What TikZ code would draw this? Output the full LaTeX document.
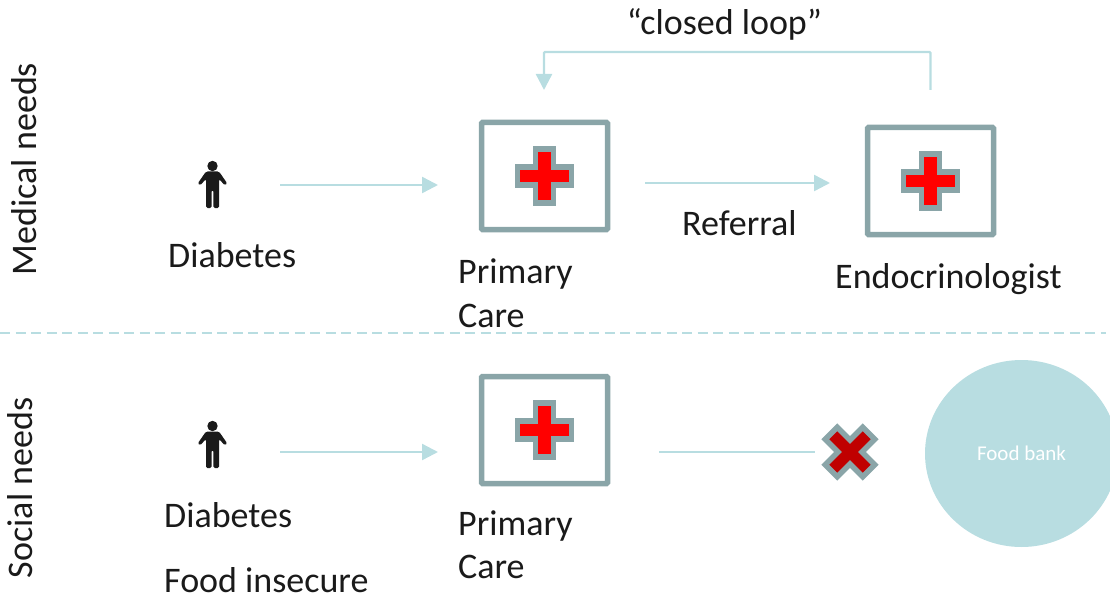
\documentclass[tikz,border=0pt]{standalone}
\usepackage{fontspec}
\setmainfont{Carlito}
\usetikzlibrary{arrows.meta,shapes.geometric}
\definecolor{teal}{HTML}{B8DDE1}
\definecolor{slate}{HTML}{8AA5A8}
\definecolor{ink}{HTML}{1A1A1A}
\definecolor{xred}{HTML}{C00000}
\tikzset{
  x=1pt,y=-1pt,
  lbl/.style={font=\fontsize{36}{40}\selectfont,text=ink,inner sep=0pt},
  flow/.style={draw=teal,line width=2.4pt,-{Triangle[length=16pt,width=16pt]}},
  plain/.style={draw=teal,line width=2.4pt},
  clinic/.style={draw=slate,line width=5.5pt,rounded corners=1pt,minimum width=126pt,minimum height=107pt,inner sep=0pt},
  crossmark/.style={draw=slate,line width=5.5pt,fill=red,miter limit=10},
  nomark/.style={draw=slate,line width=5.5pt,fill=xred},
  personmark/.pic={
    \fill[ink] (0,-19) circle (5.2);
    \fill[ink,rounded corners=1.5pt] (-6.5,-13.5) -- (6.5,-13.5) -- (14.8,-1.5) -- (12.5,0.5) -- (6.5,-6) -- (6.5,23) -- (0.8,23) -- (0.8,5) -- (-0.8,5) -- (-0.8,23) -- (-6.5,23) -- (-6.5,-6) -- (-12.5,0.5) -- (-14.8,-1.5) -- cycle;
  },
  redcross/.pic={
    \path[crossmark] (-8.8,-26.8) -- (8.8,-26.8) -- (8.8,-8.8) -- (26.8,-8.8) -- (26.8,8.8) -- (8.8,8.8) -- (8.8,26.8) -- (-8.8,26.8) -- (-8.8,8.8) -- (-26.8,8.8) -- (-26.8,-8.8) -- (-8.8,-8.8) -- cycle;
  }
}
\begin{document}
\begin{tikzpicture}
\useasboundingbox (0,0) rectangle (1110,596);
\clip (0,0) rectangle (1110,596);

% Divider
\coordinate (divL) at (0,333);
\coordinate (divR) at (1106,333);
\draw[teal,line width=2pt,dash pattern=on 10pt off 5.5pt] (divL) -- (divR);

% Side labels
\node[lbl,rotate=90] (medical) at (24.5,169) {Medical needs};
\node[lbl,rotate=90] (social) at (20.5,488) {Social needs};

% People
\pic at (212.5,185) {personmark};
\pic at (212.5,445) {personmark};
\node[lbl,anchor=base west] (diab1) at (168,267) {Diabetes};
\node[lbl,anchor=base west] (diab2) at (164,527) {Diabetes};
\node[lbl,anchor=base west] (insec) at (164,592) {Food insecure};

% Clinics
\node[clinic] (pc1) at (544.5,176) {};
\node[clinic] (endo) at (930.5,181) {};
\node[clinic] (pc2) at (544.5,430) {};
\pic at (pc1) {redcross};
\pic at (endo) {redcross};
\pic at (pc2) {redcross};

\node[lbl,anchor=base west] (pc1a) at (458,283) {Primary};
\node[lbl,anchor=base west] (pc1b) at (458,327) {Care};
\node[lbl,anchor=base west] (pc2a) at (458,535) {Primary};
\node[lbl,anchor=base west] (pc2b) at (458,578) {Care};
\node[lbl,anchor=base west] (endolbl) at (835,288) {Endocrinologist};
\node[lbl,anchor=base west] (refl) at (682,235) {Referral};
\node[lbl,anchor=base] (loop) at (724.5,35) {“closed loop”};

% Food bank
\node[ellipse,fill=teal,minimum width=193pt,minimum height=187pt,inner sep=0pt,text=white,font=\fontsize{21}{24}\selectfont] (bank) at (1021.5,453.5) {Food bank};

% Blocked mark
\coordinate (xm) at (850,452);
\path[nomark,rotate around={45:(xm)}] ([shift={(-8.5,-26.5)}]xm) -- ([shift={(8.5,-26.5)}]xm) -- ([shift={(8.5,-8.5)}]xm) -- ([shift={(26.5,-8.5)}]xm) -- ([shift={(26.5,8.5)}]xm) -- ([shift={(8.5,8.5)}]xm) -- ([shift={(8.5,26.5)}]xm) -- ([shift={(-8.5,26.5)}]xm) -- ([shift={(-8.5,8.5)}]xm) -- ([shift={(-26.5,8.5)}]xm) -- ([shift={(-26.5,-8.5)}]xm) -- ([shift={(-8.5,-8.5)}]xm) -- cycle;

% Connector ends
\coordinate (a1s) at (280,185);
\coordinate (a1e) at (438,185);
\coordinate (a2s) at (645,183);
\coordinate (a2e) at (830,183);
\coordinate (a3s) at (280,452);
\coordinate (a3e) at (438,452);
\coordinate (a4s) at (659,452);
\coordinate (a4e) at (815,452);
\coordinate (ls) at (930.5,90);
\coordinate (le) at (544,90);

\draw[flow] (a1s) -- (a1e);
\draw[flow] (a2s) -- (a2e);
\draw[flow] (a3s) -- (a3e);
\draw[plain] (a4s) -- (a4e);
\draw[flow,rounded corners=1pt] (ls) -- (930.5,52) -- (544,52) -- (le);
\end{tikzpicture}
\end{document}
